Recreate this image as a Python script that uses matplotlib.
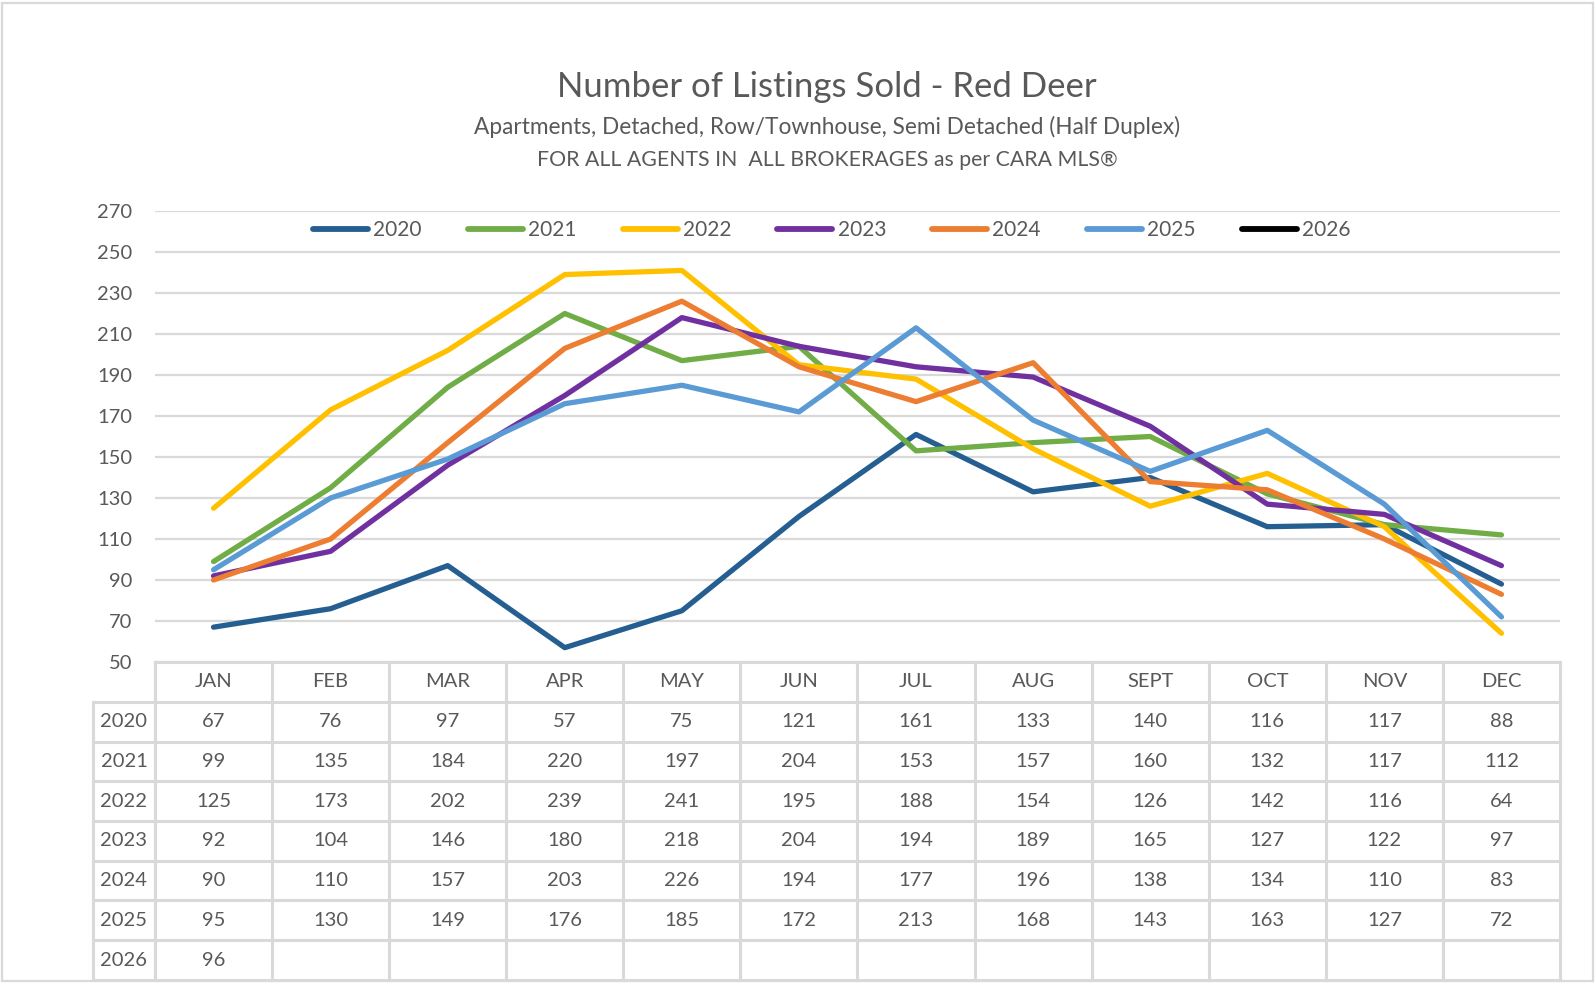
import matplotlib
matplotlib.use("Agg")
import matplotlib.pyplot as plt
from matplotlib.lines import Line2D
from matplotlib.patches import Rectangle

months = ["JAN", "FEB", "MAR", "APR", "MAY", "JUN", "JUL", "AUG", "SEPT", "OCT", "NOV", "DEC"]
years = ["2020", "2021", "2022", "2023", "2024", "2025", "2026"]
s2020 = [67, 76, 97, 57, 75, 121, 161, 133, 140, 116, 117, 88]
s2021 = [99, 135, 184, 220, 197, 204, 153, 157, 160, 132, 117, 112]
s2022 = [125, 173, 202, 239, 241, 195, 188, 154, 126, 142, 116, 64]
s2023 = [92, 104, 146, 180, 218, 204, 194, 189, 165, 127, 122, 97]
s2024 = [90, 110, 157, 203, 226, 194, 177, 196, 138, 134, 110, 83]
s2025 = [95, 130, 149, 176, 185, 172, 213, 168, 143, 163, 127, 72]
s2026 = [96]
series = [s2020, s2021, s2022, s2023, s2024, s2025, s2026]
colors = ["#255E91", "#70AD47", "#FFC000", "#7030A0", "#ED7D31", "#5B9BD5", "#000000"]
yticks = list(range(50, 271, 20))

TXT = "#595959"
GRID = "#D9D9D9"
FONT = ["Lato", "DejaVu Sans"]
plt.rcParams["font.family"] = FONT

W, H = 1596, 983
fig = plt.figure(figsize=(W / 100, H / 100), dpi=100)
fig.patch.set_facecolor("white")

def fx(px):
    return px / W

def fy(py):
    return 1 - py / H

# outer border
fig.patches.append(Rectangle((fx(1.5), fy(980.5)), fx(1592.5) - fx(1.5), fy(3) - fy(980.5),
                             transform=fig.transFigure, fill=False, edgecolor=GRID, linewidth=1.6))

# titles
CX = 827
fig.text(fx(CX), fy(87), "Number of Listings Sold - Red Deer", ha="center", va="center",
         fontsize=25, color=TXT)
fig.text(fx(CX), fy(126.5), "Apartments, Detached, Row/Townhouse, Semi Detached (Half Duplex)",
         ha="center", va="center", fontsize=16.3, color=TXT)
fig.text(fx(CX), fy(160), "FOR ALL AGENTS IN  ALL BROKERAGES as per CARA MLS\u00ae",
         ha="center", va="center", fontsize=15.3, color=TXT)

# main axes
L, R, T, B = 155, 1560, 211, 662
ax = fig.add_axes([fx(L), fy(B), fx(R) - fx(L), fy(T) - fy(B)])
ax.set_xlim(-0.5, len(months) - 0.5)
ax.set_ylim(50, 270)
ax.set_yticks(yticks)
ax.set_xticks([])
for sp in ax.spines.values():
    sp.set_visible(False)
ax.tick_params(axis="y", length=0, pad=16.5, labelsize=14.5, labelcolor=TXT)
ax.yaxis.grid(True, color=GRID, linewidth=1.6)
ax.set_axisbelow(True)

handles = []
for name, vals, c in zip(years, series, colors):
    ax.plot(range(len(vals)), vals, color=c, linewidth=3.8,
            solid_joinstyle="round", solid_capstyle="round", label=name)
    handles.append(Line2D([0], [0], color=c, linewidth=4.2, solid_capstyle="round"))

fig.legend(handles, years, loc="center left", bbox_to_anchor=(fx(313), fy(230)),
           ncol=7, frameon=False, fontsize=15, labelcolor=TXT, handlelength=2.65,
           handletextpad=0.25, columnspacing=2.2, borderpad=0, borderaxespad=0)

# table axes
TL, TB = 93, 980
colw = (R - L) / len(months)
lw = (L - TL) / colw
nrows = len(years) + 1
at = fig.add_axes([fx(TL), fy(TB), fx(R) - fx(TL), fy(B) - fy(TB)])
at.set_xlim(-0.5 - lw, len(months) - 0.5)
at.set_ylim(nrows, 0)
at.axis("off")

lwid = 2.2
at.plot([-0.5, len(months) - 0.5], [0, 0], color=GRID, linewidth=lwid, clip_on=False)
for r in range(1, nrows + 1):
    at.plot([-0.5 - lw, len(months) - 0.5], [r, r], color=GRID, linewidth=lwid, clip_on=False)
at.plot([-0.5 - lw, -0.5 - lw], [1, nrows], color=GRID, linewidth=lwid, clip_on=False)
for k in range(len(months) + 1):
    at.plot([k - 0.5, k - 0.5], [0, nrows], color=GRID, linewidth=lwid, clip_on=False)

for i, m in enumerate(months):
    at.text(i, 0.5, m, ha="center", va="center", fontsize=14.5, color=TXT)
for r, (name, vals) in enumerate(zip(years, series), start=1):
    at.text(-0.5 - lw / 2, r + 0.5, name, ha="center", va="center", fontsize=14.5, color=TXT)
    for i, v in enumerate(vals):
        at.text(i, r + 0.5, str(v), ha="center", va="center", fontsize=14.5, color=TXT)

fig.savefig("out.png", dpi=100, facecolor="white")
